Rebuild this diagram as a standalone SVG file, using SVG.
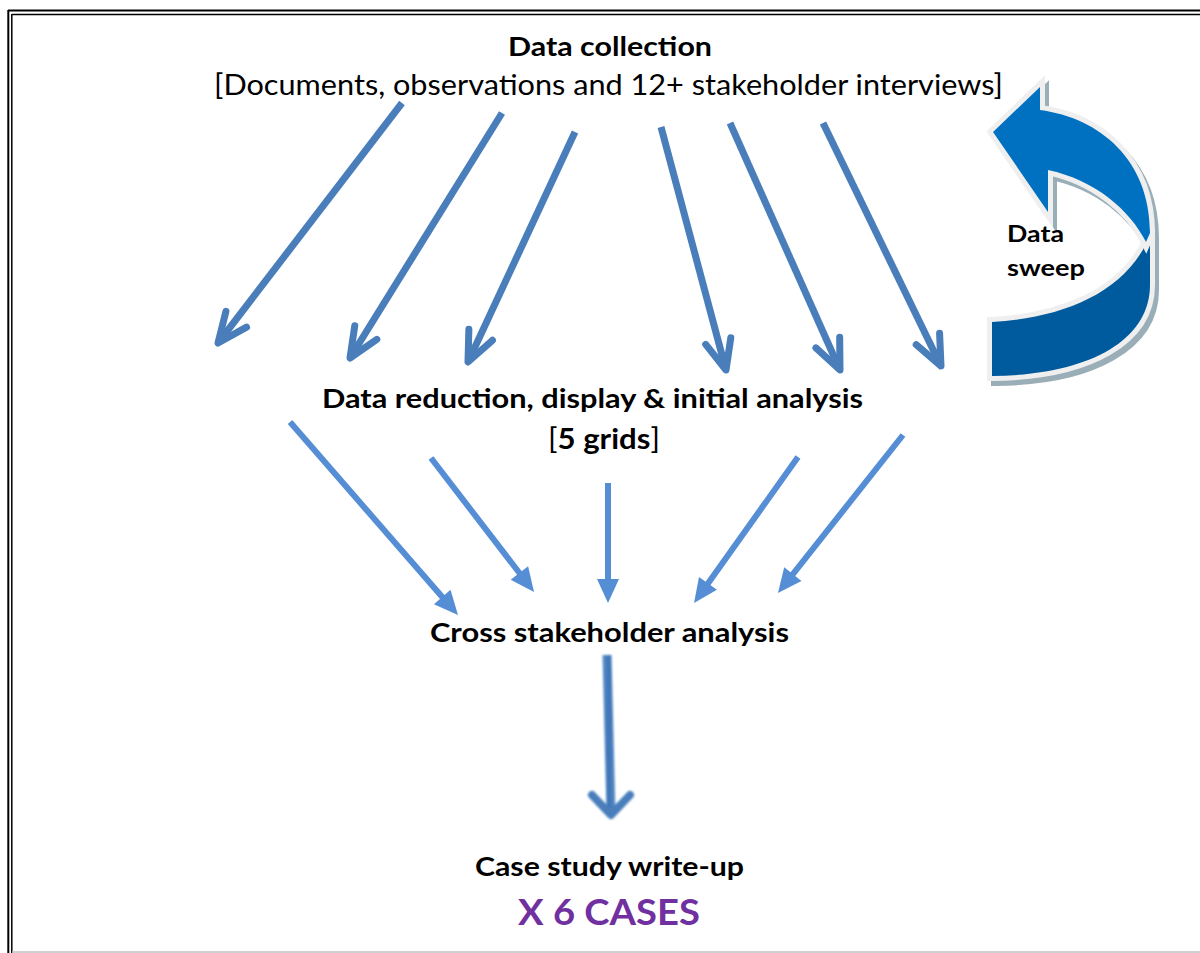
<svg xmlns="http://www.w3.org/2000/svg" width="1200" height="953" viewBox="0 0 1200 953">
  <style>
    .t { font-family: Lato, "Open Sans", "Liberation Sans", sans-serif; fill: #000; text-anchor: middle; }
    .b { font-weight: bold; }
    .a1 { stroke: #4a7ebb; stroke-width: 7; fill: none; marker-end: url(#chev); }
    .a2 { stroke: #558ed5; stroke-width: 6; fill: none; marker-end: url(#tri); }
  </style>
  <defs>
    <marker id="chev" markerUnits="userSpaceOnUse" viewBox="-40 -20 50 40" refX="0" refY="0" markerWidth="50" markerHeight="40" orient="auto" overflow="visible">
      <path d="M-30,-13 L0,0 L-30,13" fill="none" stroke="#4a7ebb" stroke-width="7" stroke-linecap="round" stroke-linejoin="round"/>
    </marker>
    <marker id="tri" markerUnits="userSpaceOnUse" viewBox="-20 -15 40 30" refX="0" refY="0" markerWidth="40" markerHeight="30" orient="auto" overflow="visible">
      <path d="M-12,-11 L12,0 L-12,11 Z" fill="#558ed5"/>
    </marker>
    <filter id="soft" filterUnits="userSpaceOnUse" x="570" y="640" width="80" height="200">
      <feGaussianBlur stdDeviation="0.9"/>
    </filter>
    <linearGradient id="shaft" x1="0" y1="0" x2="1" y2="0">
      <stop offset="0" stop-color="#5b8fcc"/>
      <stop offset="0.5" stop-color="#3f74b4"/>
      <stop offset="1" stop-color="#5b8fcc"/>
    </linearGradient>
  </defs>

  <rect width="1200" height="953" fill="#fff"/>

  <!-- double frame -->
  <g id="frame" fill="none">
    <line x1="8" y1="10.5" x2="1200" y2="10.5" stroke="#000" stroke-width="2"/>
    <line x1="12" y1="14.5" x2="1200" y2="14.5" stroke="#000" stroke-width="1.5"/>
    <line x1="8.3" y1="10" x2="8.3" y2="953" stroke="#000" stroke-width="2"/>
    <line x1="11.8" y1="14" x2="11.8" y2="953" stroke="#000" stroke-width="1.5"/>
    <line x1="12" y1="952" x2="1200" y2="952" stroke="#c0c0c0" stroke-width="1.5"/>
  </g>

  <!-- labels -->
  <g id="collection">
    <text class="t b" x="610" y="56" font-size="27" textLength="204" lengthAdjust="spacingAndGlyphs">Data collection</text>
    <text class="t" x="608.5" y="95" font-size="28" textLength="789" lengthAdjust="spacingAndGlyphs">[Documents, observations and 12+ stakeholder interviews]</text>
  </g>
  <g id="reduction">
    <text class="t b" x="592.5" y="408" font-size="27" textLength="541" lengthAdjust="spacingAndGlyphs">Data reduction, display &amp; initial analysis</text>
    <text class="t" x="604" y="449" font-size="28" textLength="112" lengthAdjust="spacingAndGlyphs"><tspan>[</tspan><tspan font-weight="bold">5 grids</tspan><tspan>]</tspan></text>
  </g>
  <g id="cross">
    <text class="t b" x="609.5" y="642" font-size="27" textLength="359" lengthAdjust="spacingAndGlyphs">Cross stakeholder analysis</text>
  </g>
  <g id="writeup">
    <text class="t b" x="609.5" y="876" font-size="27" textLength="269" lengthAdjust="spacingAndGlyphs">Case study write-up</text>
    <text class="t b" x="609" y="925" font-size="37" style="fill:#7030a0" textLength="182" lengthAdjust="spacingAndGlyphs">X 6 CASES</text>
  </g>

  <!-- curved "data sweep" arrow -->
  <g id="sweep">
    <g transform="translate(4,5)" fill="#9aaeb8">
      <path d="M993,132 L1040,87 L1040,110 C1100,118 1150,160 1150,233 L1150,285 C1150,340 1090,375 992,376 L992,322 C1060,318 1120,295 1146,242 C1130,210 1095,180 1048,170 L1048,212 Z" stroke="#9aaeb8" stroke-width="10" stroke-linejoin="miter"/>
    </g>
    <path d="M992,322 C1060,318 1120,295 1146,244 L1150,240 L1150,285 C1150,340 1090,375 992,376 Z" fill="#005a9e" stroke="#efefef" stroke-width="10" paint-order="stroke" stroke-linejoin="miter"/>
    <path d="M993,132 L1040,87 L1040,110 C1100,118 1150,160 1150,233 L1146,242 C1130,210 1095,180 1048,170 L1048,212 Z" fill="#0070c0" stroke="#efefef" stroke-width="10" paint-order="stroke" stroke-linejoin="miter"/>
    <text class="b" x="1007" y="242" font-size="22" font-family="Lato, 'Open Sans', 'Liberation Sans', sans-serif" textLength="57" lengthAdjust="spacingAndGlyphs">Data</text>
    <text class="b" x="1007" y="276" font-size="22" font-family="Lato, 'Open Sans', 'Liberation Sans', sans-serif" textLength="78" lengthAdjust="spacingAndGlyphs">sweep</text>
  </g>

  <!-- connectors -->
  <g id="connectors" stroke-linecap="butt">
    <line class="a1" x1="402" y1="103" x2="218" y2="343"/>
    <line class="a1" x1="502" y1="113" x2="350" y2="358"/>
    <line class="a1" x1="575" y1="132" x2="468" y2="362"/>
    <line class="a1" x1="661" y1="127" x2="726" y2="370"/>
    <line class="a1" x1="730" y1="123" x2="840" y2="370"/>
    <line class="a1" x1="823" y1="123" x2="941" y2="366"/>

    <line class="a2" x1="290" y1="422" x2="450.1" y2="606"/>
    <line class="a2" x1="431" y1="458" x2="526.7" y2="582.5"/>
    <line class="a2" x1="608" y1="483" x2="608" y2="591"/>
    <line class="a2" x1="798" y1="457" x2="701" y2="593.2"/>
    <line class="a2" x1="903" y1="435" x2="785.4" y2="583.6"/>

    <g id="down-arrow" filter="url(#soft)">
      <path d="M602.5,655 L611.5,655 L615.5,812 L606.5,812 Z" fill="url(#shaft)"/>
      <path d="M592,795 L611,815 L630,795" fill="none" stroke="#4a7ebb" stroke-width="8" stroke-linecap="round" stroke-linejoin="round"/>
    </g>
  </g>
</svg>
